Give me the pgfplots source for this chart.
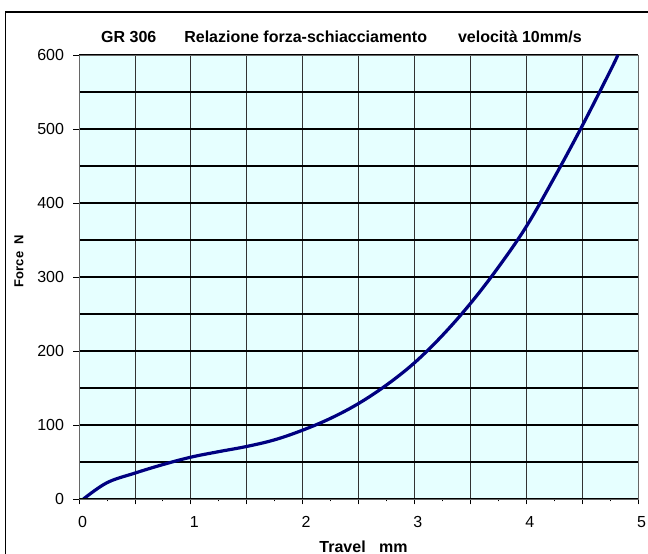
\documentclass[border=0pt]{standalone}
\usepackage{fontspec}
\setmainfont{Liberation Sans}
\usepackage{pgfplots}
\pgfplotsset{compat=1.18}

\definecolor{plotbg}{RGB}{230,255,255}
\definecolor{curve}{RGB}{0,0,128}

\begin{document}
\begin{tikzpicture}
\begin{axis}[
    at={(79bp,55bp)}, anchor=south west,
    scale only axis, width=559bp, height=444bp,
    xmin=0, xmax=5, ymin=0, ymax=600,
    axis background/.style={fill=plotbg},
    axis line style={draw=gray!80!black, line width=0.9bp},
    xtick={0,0.5,...,5}, xticklabels={0,,1,,2,,3,,4,,5},
    minor x tick num=1,
    ytick={0,100,...,600}, minor y tick num=1,
    tick align=outside, xtick pos=bottom, ytick pos=left,
    major tick length=5.5bp, minor tick length=2.5bp,
    every tick/.style={black, line width=0.8bp},
    minor y tick style={draw=none},
    xmajorgrids, ymajorgrids, yminorgrids,
    major x grid style={black!80, line width=0.8bp},
    major y grid style={black, line width=1.3bp},
    minor y grid style={black, line width=1.3bp},
    /pgf/number format/assume math mode=true,
    ticklabel style={font=\fontsize{16bp}{19bp}\selectfont},
    xticklabel style={yshift=-8bp, xshift=3.5bp},
    yticklabel style={xshift=-6bp},
]
\addplot[curve, line width=3.2bp, smooth, tension=0.6] coordinates {
(0.04,0) (0.25,22) (0.5,35) (0.75,46.5) (1.0,56.5) (1.25,64) (1.5,71)
(1.75,80) (2.0,93) (2.25,109) (2.5,129) (2.75,154) (3.0,184) (3.25,221)
(3.5,264) (3.75,313) (4.0,368) (4.25,434) (4.5,504) (4.75,578) (4.82,600)
};
\draw[black, line width=1.2bp] (rel axis cs:0,0) -- (rel axis cs:1,0);
\end{axis}
\node[anchor=base west, font=\bfseries\fontsize{16bp}{19bp}\selectfont, inner sep=0pt]
  at (101bp,511bp) {GR 306\hspace{28bp}Relazione forza-schiacciamento\hspace{31bp}velocità 10mm/s};
\node[anchor=base, font=\bfseries\fontsize{16bp}{19bp}\selectfont, inner sep=0pt]
  at (363.5bp,2bp) {Travel\ \ \ mm};
\node[anchor=base, rotate=90, font=\bfseries\fontsize{13bp}{15bp}\selectfont, inner sep=0pt]
  at (23.3bp,293bp) {Force\ \ N};
\draw[black, line width=1.5bp] (5.5bp,-30bp) rectangle (700bp,542bp);
\pgfresetboundingbox
\useasboundingbox (0,0) rectangle (648bp,554bp);
\end{tikzpicture}
\end{document}
